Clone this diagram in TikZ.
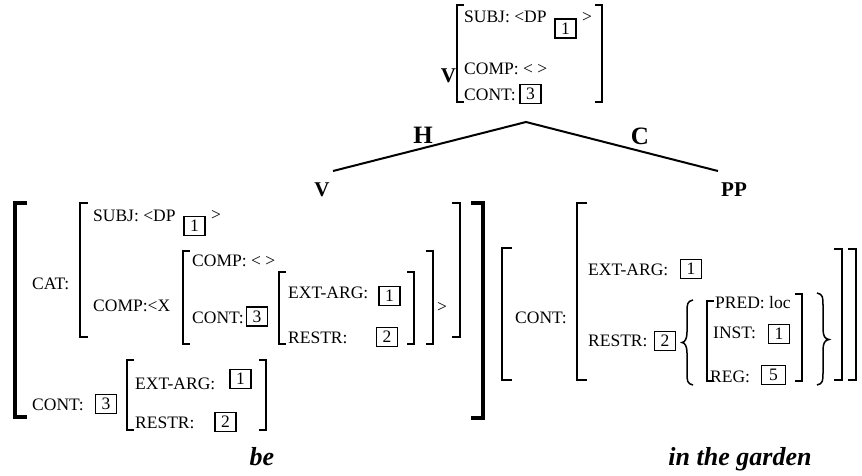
\documentclass[tikz,border=0pt]{standalone}
\usepackage{fontspec}
\setmainfont{Liberation Serif}
\newcommand\LBr[5]{\draw[#1] (#2+#5,#3) -- (#2,#3) -- (#2,#4) -- (#2+#5,#4);}
\newcommand\RBr[5]{\draw[#1] (#2-#5,#3) -- (#2,#3) -- (#2,#4) -- (#2-#5,#4);}
\begin{document}
\begin{tikzpicture}[x=1pt,y=-1pt,
  txt/.style={anchor=base west,inner sep=0pt,font=\fontsize{17.5}{20}\selectfont},
  bx/.style={draw,line width=1.3pt,minimum width=21pt,minimum height=19pt,inner sep=0pt,font=\fontsize{17.5}{20}\selectfont},
  brk/.style={line width=2pt,line join=miter},
  tbrk/.style={line width=4.5pt,line join=miter},
  brc/.style={line width=1.5pt},
  cat/.style={font=\bfseries\fontsize{21}{24}\selectfont,inner sep=0pt,anchor=base},
  word/.style={font=\bfseries\itshape\fontsize{26}{30}\selectfont,inner sep=0pt,anchor=base},
  edgelbl/.style={font=\bfseries\fontsize{25}{28}\selectfont,inner sep=0pt},
  tree/.style={line width=2pt}]
\useasboundingbox (0,0) rectangle (862,475);
% top AVM
\node[cat] (topV) at (448.5,82) {V};
\LBr{brk}{457}{5}{102}{7}
\node[txt] (t1) at (464,22) {SUBJ: <DP};
\node[bx] (tb1) at (565.5,28.5) {1};
\node[txt] (t2) at (582,22) {>};
\node[txt] (t3) at (464,74) {COMP: < >};
\node[txt] (t4) at (464,100) {CONT:};
\node[bx] (tb3) at (530.5,94) {3};
\RBr{brk}{602}{5}{102}{7}
% tree
\coordinate (apex) at (526,122);
\coordinate (lend) at (333,171);
\coordinate (rend) at (718,171);
\draw[tree] (lend) -- (apex) -- (rend);
\node[edgelbl] (H) at (423,135) {H};
\node[edgelbl] (C) at (640,136) {C};
\node[cat] (V) at (322,196) {V};
\node[cat] (PP) at (734,196) {PP};
% left AVM
\LBr{tbrk}{15}{203}{417}{12}
\node[txt] (l1) at (32,289) {CAT:};
\LBr{brk}{80}{203}{337}{8}
\node[txt] (l2) at (93,221) {SUBJ: <DP};
\node[bx] (lb1) at (194.5,226) {1};
\node[txt] (l3) at (211,220) {>};
\node[txt] (l4) at (93,311) {COMP:<X};
\LBr{brk}{183}{251}{344}{7}
\node[txt] (l5) at (192,266) {COMP: < >};
\node[txt] (l6) at (192,323) {CONT:};
\node[bx] (lb2) at (257,316.5) {3};
\LBr{brk}{279}{272}{344}{7}
\node[txt] (l7) at (288,298) {EXT-ARG:};
\node[bx] (lb3) at (389.5,296) {1};
\node[txt] (l8) at (288,343) {RESTR:};
\node[bx] (lb4) at (387,337) {2};
\RBr{brk}{414}{272}{344}{7}
\RBr{brk}{433}{251}{344}{7}
\node[txt] (l9) at (437,312) {>};
\RBr{brk}{460}{203}{337}{8}
\RBr{tbrk}{483}{203}{418}{12}
\node[txt] (l10) at (32,410) {CONT:};
\node[bx] (lb5) at (106,404) {3};
\LBr{brk}{127}{360}{430}{7}
\node[txt] (l11) at (135,389) {EXT-ARG:};
\node[bx] (lb6) at (240.5,379) {1};
\node[txt] (l12) at (135,428) {RESTR:};
\node[bx] (lb7) at (225.5,422) {2};
\RBr{brk}{266}{360}{430}{7}
% right AVM
\LBr{brk}{502}{248}{380}{10}
\node[txt] (r1) at (515,323) {CONT:};
\LBr{brk}{577}{203}{380}{10}
\node[txt] (r2) at (588,275) {EXT-ARG:};
\node[bx] (rb1) at (691,269) {1};
\node[txt] (r3) at (588,346) {RESTR:};
\node[bx] (rb2) at (665,341) {2};
\draw[brc] (693,300) .. controls (687,301) and (687,305) .. (687,312) -- (687,332) .. controls (687,339) and (685,342) .. (682,342.5) .. controls (685,343) and (687,346) .. (687,353) -- (687,373) .. controls (687,380) and (687,384) .. (693,385);
\LBr{brk}{707}{301}{381}{7}
\node[txt] (r4) at (715,308) {PRED: loc};
\node[txt] (r5) at (713,338) {INST:};
\node[bx] (rb3) at (779,334) {1};
\node[txt] (r6) at (710,382) {REG:};
\node[bx,minimum width=24pt] (rb4) at (773.5,375) {5};
\RBr{brk}{802}{294}{381}{7}
\draw[brc] (817,293) .. controls (823,294) and (823,298) .. (823,305) -- (823,329) .. controls (823,336) and (825,339) .. (829,339.5) .. controls (825,340) and (823,343) .. (823,350) -- (823,373) .. controls (823,380) and (823,384) .. (817,385);
\RBr{brk}{842}{249}{380}{8}
\RBr{brk}{856}{249}{380}{8}
% words
\node[word] (be) at (262,465) {be};
\node[word] (itg) at (740,465) {in the garden};
\end{tikzpicture}
\end{document}
